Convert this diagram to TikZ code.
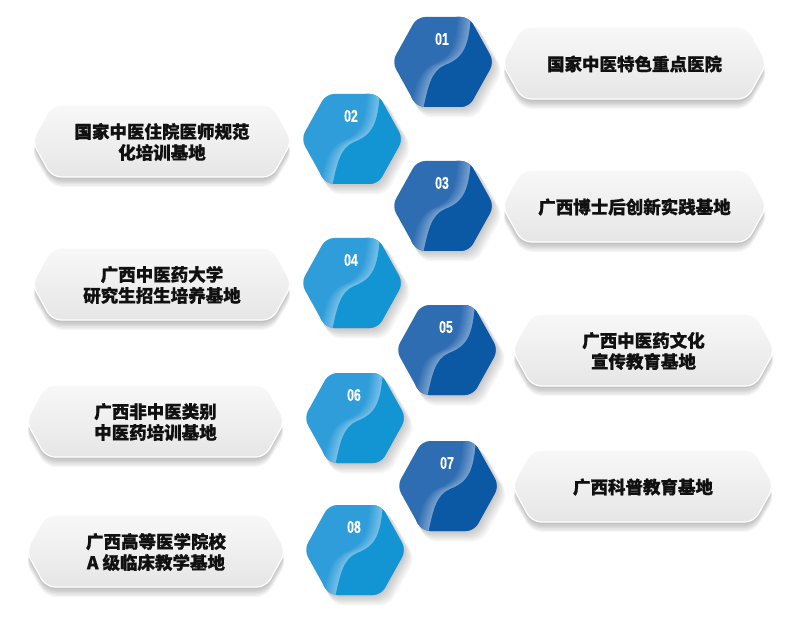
\documentclass[tikz,border=0pt]{standalone}
\usepackage{fontspec}
\newfontfamily\cjk{Noto Sans CJK SC}[BoldFeatures={FakeBold=0.8}]
\newfontfamily\numfont{Liberation Sans}[BoldFeatures={FakeBold=0.6}]
\definecolor{darkA}{HTML}{2F6DB3}
\definecolor{darkB}{HTML}{0B58A5}
\definecolor{lightA}{HTML}{2E9DDA}
\definecolor{lightB}{HTML}{1394D3}
\definecolor{boxtop}{HTML}{F8F8F8}
\definecolor{boxbot}{HTML}{E6E6E6}
\definecolor{txt}{HTML}{111111}
\tikzset{
  hexlabel/.style={text=white, font=\numfont\bfseries\fontsize{17}{17}\selectfont, inner sep=0},
  boxtext/.style={text=txt, font=\cjk\bfseries\fontsize{17.5}{21}\selectfont, align=center, inner sep=0},
  boxedge/.style={draw=white, line width=1.2pt, rounded corners=9, top color=boxtop, bottom color=boxbot},
}
\begin{document}
\begin{tikzpicture}[x=1pt,y=-1pt]
\useasboundingbox (0,0) rectangle (808,620);
\fill[white] (0,0) rectangle (808,620);
% label boxes
\foreach \L/\R/\Y/\txt [count=\i] in {
  502/767/63/{国家中医特色重点医院},
  32/292/141/{国家中医住院医师规范\\化培训基地},
  502/767/206/{广西博士后创新实践基地},
  32/292/284/{广西中医药大学\\研究生招生培养基地},
  512/775/350/{广西中医药文化\\宣传教育基地},
  26/285/421/{广西非中医类别\\中医药培训基地},
  512/774/486/{广西科普教育基地},
  26/286/551/{广西高等医学院校\\A 级临床教学基地}} {
  \foreach \k in {1,...,7}
    \fill[black, opacity=0.035, rounded corners=10]
      ({\L+1-\k*0.3},{\Y+2+\k*1.3}) -- ({\L+21},{\Y-34+\k}) -- ({\R-21},{\Y-34+\k}) --
      ({\R-1+\k*0.3},{\Y+2+\k*1.3}) -- ({\R-20},{\Y+37+\k*1.3}) -- ({\L+20},{\Y+37+\k*1.3}) -- cycle;
  \path[boxedge] (\L,\Y) -- ({\L+20},{\Y-36}) -- ({\R-20},{\Y-36}) -- (\R,\Y) --
      ({\R-20},{\Y+36}) -- ({\L+20},{\Y+36}) -- cycle;
  \node[boxtext] (t\i) at ({(\L+\R)/2},{\Y+1}) {\txt};
}
% hexagons
\foreach \cx/\cy/\ca/\cb/\num [count=\i] in {
  443/62/darkA/darkB/01, 352/139/lightA/lightB/02,
  443/206/darkA/darkB/03, 352/283/lightA/lightB/04,
  447/350/darkA/darkB/05, 355/418/lightA/lightB/06,
  448/486/darkA/darkB/07, 355/550/lightA/lightB/08} {
  \begin{scope}[shift={(\cx,\cy)}]
    \foreach \k in {1,...,7}
      \fill[black, opacity=0.03, rounded corners=9]
        ({-51+\k*0.8},{\k*1.2}) -- ({-26+\k*0.8},{-45+\k*1.2}) -- ({26+\k*1.2},{-45+\k*1.2}) --
        ({51+\k*1.3},{\k*1.2}) -- ({26+\k*1.2},{45+\k*1.5}) -- ({-26+\k*0.8},{45+\k*1.5}) -- cycle;
    \begin{scope}
      \clip[rounded corners=8] (-51,0) -- (-26,-45) -- (26,-45) -- (51,0) -- (26,45) -- (-26,45) -- cycle;
      \fill[\ca] (-60,-50) rectangle (60,50);
      \foreach \d in {14,13,...,0} {
        \pgfmathsetmacro\p{min(100,66+\d*2.6)}
        \draw[line width=1.6pt, \ca!\p!white, shift={(-\d,0)}]
          (28,-48) .. controls (26,-14) and (20,-4) .. (2,3) .. controls (-12,9) and (-15,25) .. (-20,48);
      }
      \fill[\cb] (28,-48) .. controls (26,-14) and (20,-4) .. (2,3) .. controls (-12,9) and (-15,25) .. (-20,48)
        -- (60,48) -- (60,-48) -- cycle;
    \end{scope}
    \node[hexlabel] (n\i) at (-1,-23) {\scalebox{0.72}[1]{\num}};
  \end{scope}
}
\end{tikzpicture}
\end{document}
